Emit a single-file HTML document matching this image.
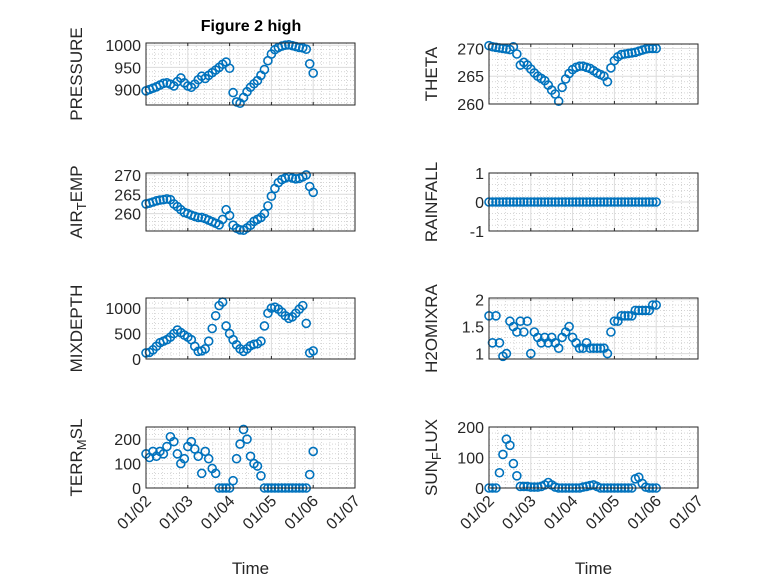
<!DOCTYPE html>
<html><head><meta charset="utf-8"><style>
body{margin:0;background:#fff}
svg{display:block;font-family:"Liberation Sans",sans-serif}
</style></head><body>
<svg id="fig" width="778" height="583" viewBox="0 0 778 583" xmlns="http://www.w3.org/2000/svg">
<rect width="778" height="583" fill="#fff"/>
<text x="251" y="31" text-anchor="middle" font-size="16" font-weight="bold" fill="#000">Figure 2 high</text>
</svg>
<script>
// time in days after 01/02, 2-hour steps
const sampleCount = 49;
const xTickLabels = ["01/02","01/03","01/04","01/05","01/06","01/07"];
const pressure = [897,900,903,906,910,914,915,912,908,918,926,915,908,905,912,922,930,925,932,938,944,950,957,962,948,893,872,869,882,895,905,913,920,932,945,965,980,990,995,998,1000,1001,999,997,995,994,991,958,937];
const airTemp = [262.5,262.7,263,263.3,263.5,263.6,263.8,263.6,262.5,261.8,261,260.3,260,259.6,259.3,259,259,258.7,258.3,257.9,257.5,257.1,258.5,261,259.5,257,256.2,255.8,255.7,256.3,257,258,258.5,259,260,262,264.5,266.5,268,268.8,269.2,269.5,269.2,269,269.1,269.5,270,267,265.5];
const theta = [270.5,270.3,270.2,270.1,270,269.9,269.8,270.3,269,267,267.5,267,266.3,265.6,265,264.6,264.2,263.4,262.5,261.8,260.5,263,264.5,265.5,266.2,266.6,266.8,266.8,266.6,266.4,266,265.6,265.3,265,264,266.5,267.8,268.5,268.9,269,269.1,269.2,269.3,269.5,269.7,269.9,270,270,270];
const rainfall = [0,0,0,0,0,0,0,0,0,0,0,0,0,0,0,0,0,0,0,0,0,0,0,0,0,0,0,0,0,0,0,0,0,0,0,0,0,0,0,0,0,0,0,0,0,0,0,0,0];
const mixDepth = [120,130,180,250,320,350,380,430,500,570,520,470,430,380,250,150,160,200,350,600,850,1050,1120,650,500,380,280,200,150,200,260,290,300,350,650,900,1000,1020,980,920,850,800,830,900,980,1050,700,120,160];
const h2oMix = [1.7,1.2,1.7,1.2,0.95,1.0,1.6,1.5,1.4,1.6,1.4,1.6,1.0,1.4,1.3,1.2,1.3,1.2,1.3,1.2,1.1,1.3,1.4,1.5,1.3,1.2,1.1,1.1,1.2,1.1,1.1,1.1,1.1,1.1,1.0,1.4,1.6,1.6,1.7,1.7,1.7,1.7,1.8,1.8,1.8,1.8,1.8,1.9,1.9];
const terrMsl = [140,125,150,130,150,140,170,210,190,140,100,120,170,190,160,130,60,150,120,80,60,0,0,0,0,30,120,180,240,200,130,100,90,50,0,0,0,0,0,0,0,0,0,0,0,0,0,55,150];
const sunFlux = [0,0,0,50,110,160,140,80,40,5,5,5,3,3,3,5,10,18,10,3,0,0,0,0,0,0,0,3,5,8,10,5,0,0,0,0,0,0,0,0,0,0,30,35,15,3,0,0,0];

const panels = [
 {name:"pressure",data:pressure,label:["PRESSURE"],x0:146,x1:355,y0:43,y1:105,ymin:865,ymax:1005,ticks:[900,950,1000],minor:10,bottom:false},
 {name:"theta",data:theta,label:["THETA"],x0:489,x1:698,y0:44,y1:104,ymin:260,ymax:270.8,ticks:[260,265,270],minor:1,bottom:false},
 {name:"air-temp",data:airTemp,label:["AIR","T","EMP"],x0:146,x1:355,y0:173,y1:231,ymin:255.5,ymax:270.5,ticks:[260,265,270],minor:1,bottom:false},
 {name:"rainfall",data:rainfall,label:["RAINFALL"],x0:489,x1:698,y0:173,y1:231,ymin:-1,ymax:1,ticks:[-1,0,1],minor:0.2,bottom:false},
 {name:"mix-depth",data:mixDepth,label:["MIXDEPTH"],x0:146,x1:355,y0:298,y1:359,ymin:0,ymax:1200,ticks:[0,500,1000],minor:100,bottom:false},
 {name:"h2o-mix",data:h2oMix,label:["H2OMIXRA"],x0:489,x1:698,y0:298,y1:359,ymin:0.9,ymax:2.03,ticks:[1,1.5,2],minor:0.1,bottom:false},
 {name:"terr-msl",data:terrMsl,label:["TERR","M","SL"],x0:146,x1:355,y0:427,y1:488,ymin:0,ymax:250,ticks:[0,100,200],minor:20,bottom:true},
 {name:"sun-flux",data:sunFlux,label:["SUN","F","LUX"],x0:489,x1:698,y0:427,y1:488,ymin:0,ymax:200,ticks:[0,100,200],minor:20,bottom:true}
];
const NS="http://www.w3.org/2000/svg";
const svg=document.getElementById("fig");
function mk(tag,attrs,parent){const e=document.createElementNS(NS,tag);for(const k in attrs)e.setAttribute(k,attrs[k]);(parent||svg).appendChild(e);return e;}
panels.forEach(p=>{
  const g=mk("g",{});
  
  
  const xs=d=>p.x0+(d/5)*(p.x1-p.x0);
  const ys=v=>p.y1-(v-p.ymin)/(p.ymax-p.ymin)*(p.y1-p.y0);
  for(let d=0.2;d<5;d+=0.2){ if(Math.abs(d-Math.round(d))<1e-6)continue;
    mk("line",{x1:xs(d),x2:xs(d),y1:p.y0,y2:p.y1,stroke:"#bdbdbd","stroke-width":0.6,"stroke-dasharray":"1 2"},g);}
  const start=Math.ceil(p.ymin/p.minor)*p.minor;
  for(let v=start;v<=p.ymax+1e-9;v+=p.minor){ if(p.ticks.some(t=>Math.abs(t-v)<1e-6))continue;
    mk("line",{x1:p.x0,x2:p.x1,y1:ys(v),y2:ys(v),stroke:"#bdbdbd","stroke-width":0.6,"stroke-dasharray":"1 2"},g);}
  for(let d=1;d<5;d++) mk("line",{x1:xs(d),x2:xs(d),y1:p.y0,y2:p.y1,stroke:"#dcdcdc","stroke-width":1},g);
  p.ticks.forEach(v=>{ mk("line",{x1:p.x0,x2:p.x1,y1:ys(v),y2:ys(v),stroke:"#dcdcdc","stroke-width":1},g);
    const t=mk("text",{x:p.x0-5,y:ys(v)+6,"text-anchor":"end","font-size":16,fill:"#262626"},g);t.textContent=String(v);
    
    
  });
  for(let d=0;d<=5;d++){
    mk("line",{x1:xs(d),x2:xs(d),y1:p.y1,y2:p.y1-3,stroke:"#262626"},g);
    mk("line",{x1:xs(d),x2:xs(d),y1:p.y0,y2:p.y0+3,stroke:"#262626"},g);
    if(p.bottom){
      const tx=xs(d)+6, ty=p.y1+14;
      const t=mk("text",{x:tx,y:ty,"text-anchor":"end","font-size":16,fill:"#262626",transform:`rotate(-45 ${tx} ${ty})`},g);
      t.textContent=xTickLabels[d];
      
      
    }
  }
  p.data.forEach((v,i)=>{
    const c=mk("circle",{cx:xs(i/12),cy:ys(v),r:4,fill:"none",stroke:"#0072BD","stroke-width":1.6},g);
    
    
  });
  const box=mk("rect",{x:p.x0,y:p.y0,width:p.x1-p.x0,height:p.y1-p.y0,fill:"none",stroke:"#262626","stroke-width":1},g);
  
  
  const lx=p.x0-(p.x0<300?64:52), ly=(p.y0+p.y1)/2;
  const yl=mk("text",{x:lx,y:ly,"text-anchor":"middle","font-size":17,fill:"#262626",transform:`rotate(-90 ${lx} ${ly})`},g);
  
  
  if(p.label.length===1){yl.textContent=p.label[0];}
  else{
    const a=mk("tspan",{},yl);a.textContent=p.label[0];
    const b=mk("tspan",{dy:4,"font-size":13},yl);b.textContent=p.label[1];
    const c=mk("tspan",{dy:-4},yl);c.textContent=p.label[2];
  }
  if(p.bottom){
    const tl=mk("text",{x:(p.x0+p.x1)/2,y:574,"text-anchor":"middle","font-size":17,fill:"#262626"},g);
    tl.textContent="Time";
    
    
  }
});
</script>
</body></html>
